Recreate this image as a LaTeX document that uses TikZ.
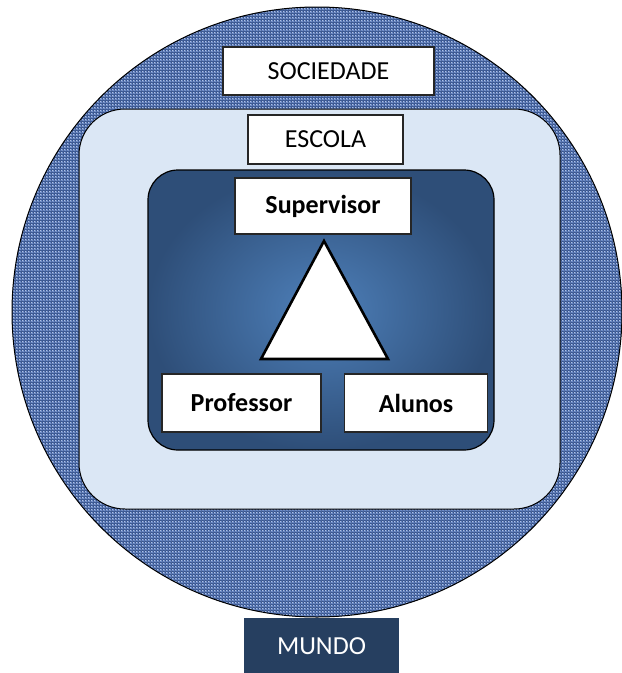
\documentclass[tikz,border=0pt]{standalone}
\usepackage{fontspec}
\setmainfont{Carlito}
\usepackage{xcolor}
\usetikzlibrary{shapes,shapes.geometric,calc,positioning,patterns}
\definecolor{denim}{RGB}{104,136,198}
\definecolor{denimdark}{RGB}{52,82,142}
\definecolor{escolabg}{RGB}{219,231,245}
\definecolor{innerlight}{RGB}{78,128,186}
\definecolor{innerdark}{RGB}{46,78,120}
\definecolor{mundobg}{RGB}{38,63,96}

\begin{document}
\begin{tikzpicture}[x=1pt,y=-1pt]
	\tikzstyle{every node}=[font=\fontsize{26}{30}\selectfont]
	\tikzstyle{wbox}=[rectangle, draw=black!85, line width=1.2pt, fill=white, inner sep=0pt]
	\tikzstyle{bbox}=[wbox, font=\fontsize{26}{30}\selectfont\bfseries, line width=1.6pt]
	\useasboundingbox (0,0) rectangle (622,673);
	% mundo / sociedade
	\fill[denim] (317,312) circle (305pt);
	\fill[pattern=grid, pattern color=denimdark] (317,312) circle (305pt);
	\fill[pattern=crosshatch dots, pattern color=white!60!denim] (317,312) circle (305pt);
	\draw[line width=1pt] (317,312) circle (305pt);
	% escola
	\draw[line width=1pt, fill=escolabg, rounded corners=46pt] (79,109) rectangle (560,509);
	% sala
	\shade[inner color=innerlight, outer color=innerdark, rounded corners=30pt] (148,170) rectangle (494,450);
	\draw[line width=1.2pt, rounded corners=30pt] (148,170) rectangle (494,450);
	\node[wbox, minimum width=211pt, minimum height=48pt] (soc) at (328.5,71) {SOCIEDADE};
	\node[wbox, minimum width=155pt, minimum height=49pt] (esc) at (325.5,139.5) {ESCOLA};
	\node[bbox, minimum width=176pt, minimum height=56pt] (sup) at (323,206) {Supervisor};
	\node[bbox, minimum width=159pt, minimum height=58pt] (prof) at (241.5,403) {Professor};
	\node[bbox, minimum width=143pt, minimum height=58pt, right=22pt of prof] (alu) {Alunos};
	\draw[line width=2.6pt, fill=white] (324,241) -- (388,359) -- (261,359) -- cycle;
	\node[fill=mundobg, text=white, minimum width=155pt, minimum height=56pt, inner sep=0pt] (mun) at (321.5,646) {MUNDO};
\end{tikzpicture}
\end{document}
